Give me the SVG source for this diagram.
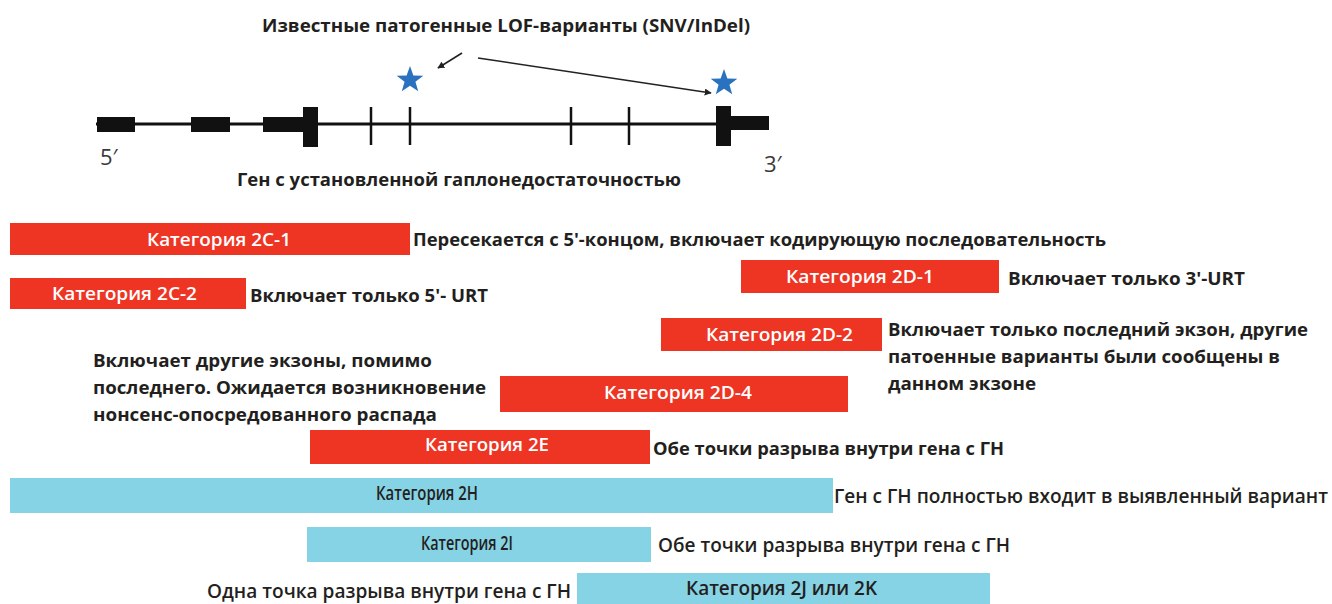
<svg xmlns="http://www.w3.org/2000/svg" width="1332" height="604" viewBox="0 0 1332 604">
<style>
.t{font-family:"Open Sans","Liberation Sans",sans-serif;font-weight:700;font-size:17px;fill:#231f20}
.c{font-family:"Open Sans","Liberation Sans",sans-serif;font-weight:600;font-size:19px;fill:#231f20}
.w{font-family:"Open Sans","Liberation Sans",sans-serif;font-weight:600;font-size:18px;fill:#ffffff}
.k{font-family:"Open Sans","Liberation Sans",sans-serif;font-weight:600;font-size:20px;fill:#231f20}
.r{fill:#ee3524}
.b{fill:#87d3e6}
.g{fill:#111}
.tick{stroke:#111;stroke-width:2.5}
.arr{stroke:#222;stroke-width:1.6;fill:none;marker-end:url(#ah)}
.p{font-family:"Open Sans","Liberation Sans",sans-serif;font-size:22px;fill:#3a3a3a}
</style>
<defs>
<marker id="ah" viewBox="0 0 10 10" refX="9" refY="5" markerWidth="7" markerHeight="7" orient="auto" markerUnits="userSpaceOnUse">
<path d="M0,0 L10,5 L0,10 z" fill="#222"/>
</marker>
<polygon id="star" fill="#2a72c0" points="0,-14 3.36,-4.62 13.31,-4.33 5.43,1.77 8.23,11.33 0,5.71 -8.23,11.33 -5.43,1.77 -13.31,-4.33 -3.36,-4.62"/>
</defs>
<rect width="1332" height="604" fill="#ffffff"/>

<g id="gene">
<line x1="96" y1="124" x2="768" y2="124" stroke="#111" stroke-width="3"/>
<rect class="g" x="97" y="117" width="38" height="15"/>
<rect class="g" x="191" y="117" width="39" height="15"/>
<rect class="g" x="263" y="117" width="40" height="15"/>
<rect class="g" x="303" y="107" width="15" height="40"/>
<line class="tick" x1="371" y1="107" x2="371" y2="145"/>
<line class="tick" x1="410" y1="107" x2="410" y2="145"/>
<line class="tick" x1="571" y1="107" x2="571" y2="145"/>
<line class="tick" x1="629" y1="107" x2="629" y2="145"/>
<rect class="g" x="716" y="106" width="15" height="40"/>
<rect class="g" x="731" y="116" width="38" height="14"/>
<text class="p" x="100" y="165">5′</text>
<text class="p" x="764" y="172">3′</text>
<text class="t" x="237" y="186" textLength="444" lengthAdjust="spacingAndGlyphs">Ген с установленной гаплонедостаточностью</text>
</g>

<g id="variants">
<text class="t" x="262" y="32" textLength="488" lengthAdjust="spacingAndGlyphs">Известные патогенные LOF-варианты (SNV/InDel)</text>
<use href="#star" x="410" y="80"/>
<use href="#star" x="724" y="83"/>
</g>

<g id="connectors">
<line class="arr" x1="462" y1="53" x2="438" y2="68"/>
<line class="arr" x1="478" y1="58" x2="711" y2="93"/>
</g>

<g id="cat2C1">
<rect class="r" x="10" y="223" width="400" height="32"/>
<text class="w" x="147" y="246" textLength="144" lengthAdjust="spacingAndGlyphs">Категория 2C-1</text>
<text class="t" x="413" y="246" textLength="693" lengthAdjust="spacingAndGlyphs">Пересекается с 5'-концом, включает кодирующую последовательность</text>
</g>

<g id="cat2C2">
<rect class="r" x="10" y="278" width="236" height="31"/>
<text class="w" x="52" y="300" textLength="145" lengthAdjust="spacingAndGlyphs">Категория 2C-2</text>
<text class="t" x="250" y="302" textLength="238" lengthAdjust="spacingAndGlyphs">Включает только 5'- URT</text>
</g>

<g id="cat2D1">
<rect class="r" x="741" y="260" width="258" height="33"/>
<text class="w" x="786" y="283" textLength="148" lengthAdjust="spacingAndGlyphs">Категория 2D-1</text>
<text class="t" x="1008" y="285" textLength="237" lengthAdjust="spacingAndGlyphs">Включает только 3'-URT</text>
</g>

<g id="cat2D2">
<rect class="r" x="661" y="318" width="221" height="33"/>
<text class="w" x="706" y="341" textLength="147" lengthAdjust="spacingAndGlyphs">Категория 2D-2</text>
<text class="t" x="888" y="336" textLength="420" lengthAdjust="spacingAndGlyphs">Включает только последний экзон, другие</text>
<text class="t" x="888" y="363" textLength="392" lengthAdjust="spacingAndGlyphs">патоенные варианты были сообщены в</text>
<text class="t" x="888" y="390" textLength="148" lengthAdjust="spacingAndGlyphs">данном экзоне</text>
</g>

<g id="cat2D4">
<rect class="r" x="500" y="376" width="348" height="36"/>
<text class="w" x="604" y="399" textLength="148" lengthAdjust="spacingAndGlyphs">Категория 2D-4</text>
<text class="t" x="93" y="367" textLength="339" lengthAdjust="spacingAndGlyphs">Включает другие экзоны, помимо</text>
<text class="t" x="93" y="394" textLength="393" lengthAdjust="spacingAndGlyphs">последнего. Ожидается возникновение</text>
<text class="t" x="93" y="421" textLength="344" lengthAdjust="spacingAndGlyphs">нонсенс-опосредованного распада</text>
</g>

<g id="cat2E">
<rect class="r" x="310" y="430" width="340" height="34"/>
<text class="w" x="425" y="451" textLength="124" lengthAdjust="spacingAndGlyphs">Категория 2E</text>
<text class="t" x="653" y="455" textLength="351" lengthAdjust="spacingAndGlyphs">Обе точки разрыва внутри гена с ГН</text>
</g>

<g id="cat2H">
<rect class="b" x="10" y="478" width="823" height="35"/>
<text class="k" x="376" y="500" textLength="102" lengthAdjust="spacingAndGlyphs">Категория 2H</text>
<text class="c" x="834" y="503" textLength="494" lengthAdjust="spacingAndGlyphs">Ген с ГН полностью входит в выявленный вариант</text>
</g>

<g id="cat2I">
<rect class="b" x="307" y="527" width="344" height="35"/>
<text class="k" x="421" y="550" textLength="92" lengthAdjust="spacingAndGlyphs">Категория 2I</text>
<text class="c" x="658" y="552" textLength="352" lengthAdjust="spacingAndGlyphs">Обе точки разрыва внутри гена с ГН</text>
</g>

<g id="cat2JK">
<rect class="b" x="577" y="573" width="413" height="31"/>
<text class="k" x="686" y="595" textLength="191" lengthAdjust="spacingAndGlyphs">Категория 2J или 2K</text>
<text class="c" x="207" y="598" textLength="364" lengthAdjust="spacingAndGlyphs">Одна точка разрыва внутри гена с ГН</text>
</g>
</svg>
